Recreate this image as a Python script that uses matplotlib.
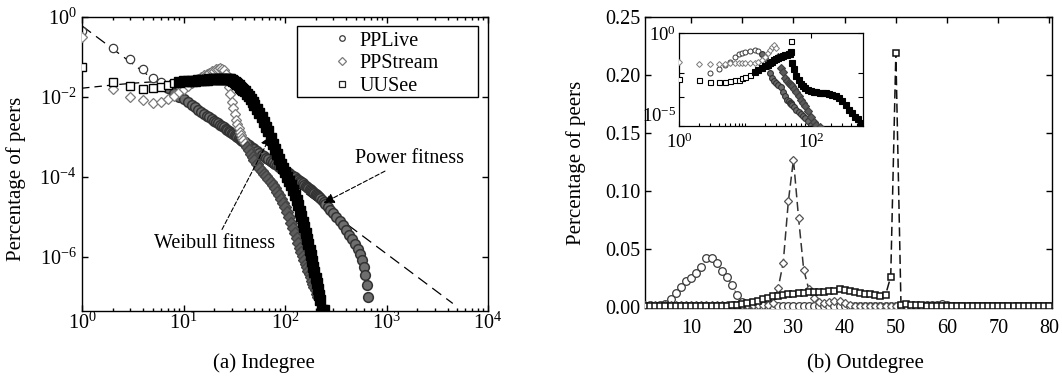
import numpy as np
import matplotlib
matplotlib.use("Agg")
import matplotlib.pyplot as plt
from matplotlib.patches import Rectangle
from matplotlib.lines import Line2D
from matplotlib.ticker import FixedLocator, NullLocator, NullFormatter, FixedFormatter, LogLocator

nan = np.nan

# ---------------- (a) Indegree data (log10 of percentage) ----------------
indeg_x = [1, 2, 3, 4, 5, 6, 7, 8, 9, 10,
           11, 12, 13, 14, 15, 16, 17, 18, 19, 20,
           21, 22, 23, 24, 25, 26, 27, 28, 29, 30,
           31, 32, 33, 34, 35, 36, 37, 38, 39, 40,
           42, 44, 46, 48, 50, 53, 56, 59, 62, 65,
           68, 72, 76, 80, 84, 88, 92, 96, 100, 105,
           110, 115, 120, 125, 130, 135, 140, 145, 150, 155,
           160, 165, 170, 175, 180, 185, 190, 195, 200, 205,
           210, 215, 220, 230, 240, 250, 265, 280, 300, 320,
           345, 370, 400, 430, 460, 490, 520, 550, 580, 600,
           620, 640, 660]

pplive_in_log = [-0.35, -0.77, -1.06, -1.30, -1.52, -1.62, -1.78, -1.90, -1.99, -2.06,
                 -2.13, -2.20, -2.26, -2.32, -2.37, -2.42, -2.47, -2.51, -2.55, -2.59,
                 -2.63, -2.66, -2.70, -2.73, -2.76, -2.79, -2.82, -2.85, -2.88, -2.90,
                 -2.93, -2.95, -2.98, -3.00, -3.02, -3.05, -3.07, -3.09, -3.11, -3.13,
                 -3.17, -3.21, -3.24, -3.28, -3.31, -3.36, -3.40, -3.44, -3.48, -3.52,
                 -3.55, -3.59, -3.63, -3.67, -3.71, -3.74, -3.78, -3.81, -3.84, -3.88,
                 -3.91, -3.95, -3.98, -4.01, -4.04, -4.07, -4.10, -4.13, -4.16, -4.19,
                 -4.22, -4.25, -4.27, -4.30, -4.33, -4.35, -4.38, -4.40, -4.43, -4.46,
                 -4.48, -4.51, -4.53, -4.58, -4.63, -4.68, -4.75, -4.82, -4.91, -5.00,
                 -5.11, -5.21, -5.33, -5.44, -5.56, -5.68, -5.80, -5.93, -6.08, -6.25,
                 -6.45, -6.70, -7.00]

ppstream_in_log = [-0.50, -1.80, -2.00, -2.07, -2.15, -2.12, -2.05, -1.97, -1.88, -1.80,
                   -1.73, -1.66, -1.60, -1.55, -1.50, -1.46, -1.42, -1.39, -1.36, -1.34,
                   -1.31, -1.29, -1.28, -1.29, -1.33, -1.42, -1.56, -1.74, -1.93, -2.12,
                   -2.28, -2.43, -2.57, -2.68, -2.78, -2.87, -2.95, -3.02, -3.08, -3.14,
                   -3.24, -3.33, -3.42, -3.50, -3.58, -3.68, -3.77, -3.85, -3.92, -3.98,
                   -4.04, -4.12, -4.20, -4.28, -4.37, -4.46, -4.55, -4.65, -4.75, -4.88,
                   -5.01, -5.14, -5.27, -5.40, -5.53, -5.65, -5.77, -5.88, -5.98, -6.08,
                   -6.17, -6.26, -6.35, -6.43, -6.51, -6.59, -6.67, -6.75, -6.83, -6.92,
                   -7.00, nan, nan, nan, nan, nan, nan, nan, nan, nan,
                   nan, nan, nan, nan, nan, nan, nan, nan, nan, nan,
                   nan, nan, nan]

uusee_in_log = [-1.25, -1.62, -1.72, -1.80, -1.78, -1.75, -1.70, -1.65, -1.62, -1.60,
                -1.60, -1.59, -1.59, -1.58, -1.58, -1.57, -1.57, -1.56, -1.56, -1.56,
                -1.56, -1.56, -1.56, -1.56, -1.56, -1.56, -1.56, -1.56, -1.56, -1.57,
                -1.59, -1.62, -1.65, -1.68, -1.71, -1.74, -1.77, -1.80, -1.83, -1.86,
                -1.92, -1.98, -2.05, -2.12, -2.19, -2.29, -2.40, -2.51, -2.62, -2.74,
                -2.86, -3.02, -3.17, -3.30, -3.43, -3.55, -3.67, -3.78, -3.88, -4.00,
                -4.10, -4.21, -4.33, -4.45, -4.58, -4.71, -4.84, -4.98, -5.12, -5.26,
                -5.40, -5.54, -5.68, -5.82, -5.96, -6.10, -6.24, -6.38, -6.52, -6.66,
                -6.80, -6.94, -7.08, -7.33, -7.33, nan, nan, nan, nan, nan,
                nan, nan, nan, nan, nan, nan, nan, nan, nan, nan,
                nan, nan, nan]

weibull_fit_x = [1, 2, 3, 5, 8, 12, 20, 30, 40, 50, 60, 70, 80, 100, 120, 150, 180, 210]
weibull_fit_log = [-1.78, -1.70, -1.66, -1.62, -1.59, -1.57, -1.56, -1.58, -1.86, -2.19,
                   -2.55, -2.95, -3.30, -3.88, -4.33, -5.12, -5.96, -6.80]

power_fit_x = [1, 4500]
power_fit_y = [0.60, 6.9e-8]

# ---------------- (b) Outdegree data ----------------
outdeg_x = list(range(1, 81))

pplive_out = [0.0010, 0.0012, 0.0010, 0.0015, 0.0025, 0.0066, 0.0120, 0.0175, 0.0220, 0.0250,
              0.0290, 0.0340, 0.0420, 0.0420, 0.0375, 0.0310, 0.0260, 0.0190, 0.0100, 0.0040,
              0.0020, 0.0012, 0.0010, 0.0010, 0.0010, 0.0010, 0.0008, 0.0008, 0.0008, 0.0008,
              0.0008, 0.0008, 0.0008, 0.0008, 0.0008, 0.0008, 0.0008, 0.0008, 0.0008, 0.0008,
              0.0008, 0.0008, 0.0008, 0.0008, 0.0008, 0.0008, 0.0008, 0.0008, 0.0008, 0.0008,
              0.0008, 0.0010, 0.0010, 0.0010, 0.0010, 0.0012, 0.0015, 0.0020, 0.0022, 0.0015,
              0.0010, 0.0008, 0.0008, 0.0008, 0.0008, 0.0008, 0.0008, 0.0008, 0.0008, 0.0008,
              0.0008, 0.0008, 0.0008, 0.0008, 0.0008, 0.0008, 0.0008, 0.0008, 0.0008, 0.0008]

ppstream_out = [0.0015, 0.0015, 0.0015, 0.0015, 0.0015, 0.0015, 0.0015, 0.0015, 0.0015, 0.0015,
                0.0015, 0.0015, 0.0015, 0.0015, 0.0015, 0.0015, 0.0015, 0.0015, 0.0015, 0.0015,
                0.0015, 0.0015, 0.0015, 0.0015, 0.0020, 0.0030, 0.0160, 0.0380, 0.0910, 0.1270,
                0.0765, 0.0320, 0.0150, 0.0080, 0.0040, 0.0030, 0.0040, 0.0050, 0.0050, 0.0030,
                0.0015, 0.0010, 0.0008, 0.0008, 0.0008, 0.0008, 0.0008, 0.0008, 0.0008, 0.0008,
                0.0008, 0.0008, 0.0008, 0.0008, 0.0008, 0.0008, 0.0008, 0.0008, 0.0008, 0.0008,
                0.0008, 0.0008, 0.0008, 0.0008, 0.0008, 0.0008, 0.0008, 0.0008, 0.0008, 0.0008,
                0.0008, 0.0008, 0.0008, 0.0008, 0.0008, 0.0008, 0.0008, 0.0008, 0.0008, 0.0008]

uusee_out = [0.0005, 0.0005, 0.0005, 0.0005, 0.0005, 0.0005, 0.0005, 0.0005, 0.0005, 0.0005,
             0.0005, 0.0005, 0.0005, 0.0005, 0.0005, 0.0005, 0.0005, 0.0015, 0.0020, 0.0025,
             0.0030, 0.0040, 0.0050, 0.0065, 0.0075, 0.0090, 0.0095, 0.0105, 0.0110, 0.0115,
             0.0120, 0.0123, 0.0125, 0.0130, 0.0130, 0.0130, 0.0135, 0.0140, 0.0152, 0.0145,
             0.0135, 0.0130, 0.0120, 0.0115, 0.0110, 0.0105, 0.0095, 0.0105, 0.0260, 0.2190,
             0.0020, 0.0025, 0.0020, 0.0020, 0.0015, 0.0005, 0.0005, 0.0005, 0.0005, 0.0005,
             0.0005, 0.0005, 0.0005, 0.0005, 0.0005, 0.0005, 0.0005, 0.0005, 0.0005, 0.0005,
             0.0005, 0.0005, 0.0005, 0.0005, 0.0005, 0.0005, 0.0005, 0.0005, 0.0005, 0.0005]

# inset (log-log outdegree), log10 values
inset_x = [1, 2, 3, 4, 5, 6, 7, 8, 9, 10,
           12, 14, 16, 18, 20, 22, 24, 26, 28, 30,
           32, 35, 38, 41, 44, 46, 48, 49, 50, 52,
           56, 60, 65, 70, 75, 80, 90, 100, 110, 120,
           135, 150, 170, 190, 210, 240, 270, 300, 340, 380,
           420, 470, 520, 580]

uusee_inset_log = [-2.45, -2.52, -2.65, -2.66, -2.65, -2.60, -2.55, -2.50, -2.42, -2.36,
                   -2.25, -2.12, -2.00, -1.90, -1.80, -1.70, -1.62, -1.55, -1.46, -1.40,
                   -1.35, -1.28, -1.22, -1.18, -1.16, -1.15, -1.12, -1.00, -0.42, -1.60,
                   -1.95, -2.30, -2.55, -2.72, -2.85, -2.95, -3.05, -3.10, -3.15, -3.18,
                   -3.20, -3.22, -3.25, -3.28, -3.32, -3.40, -3.50, -3.65, -3.85, -4.15,
                   -4.30, -4.50, -4.65, -4.85]

pplive_inset_log = [nan, nan, -2.17, -1.95, -1.72, -1.55, -1.30, -1.15, -1.07, -1.00,
                    -0.95, -0.91, -0.98, -1.15, -1.35, -1.80, -2.17, -2.40, -2.60, -2.70,
                    -2.78, -2.90, -3.15, -3.40, -3.60, -3.68, -3.75, -3.78, -3.82, -3.88,
                    -4.00, -4.14, -4.25, -4.35, -4.45, -4.55, -4.75, -4.95, -5.05, nan,
                    nan, nan, nan, nan, nan, nan, nan, nan, nan, nan,
                    nan, nan, nan, nan]

ppstream_inset_log = [-1.54, -1.69, -1.69, -1.69, -1.65, -1.63, -1.62, -1.60, -1.60, -1.62,
                      -1.62, -1.60, -1.55, -1.45, -1.30, -1.10, -0.90, -0.75, -0.65, -0.80,
                      -1.30, -1.90, -2.10, -2.40, -2.60, -2.70, -2.75, -2.78, -2.80, -2.85,
                      -3.00, -3.15, -3.40, -3.60, -3.75, -3.90, -4.20, -4.50, -4.80, -4.95,
                      -5.05, nan, nan, nan, nan, nan, nan, nan, nan, nan,
                      nan, nan, nan, nan]

series_labels = ["PPLive", "PPStream", "UUSee"]

assert len(indeg_x) == len(pplive_in_log) == len(ppstream_in_log) == len(uusee_in_log)
assert len(inset_x) == len(uusee_inset_log) == len(pplive_inset_log) == len(ppstream_inset_log)
assert len(outdeg_x) == len(pplive_out) == len(ppstream_out) == len(uusee_out)


def p10(v):
    return 10.0 ** np.asarray(v, dtype=float)


plt.rcParams["font.family"] = ["Liberation Serif", "DejaVu Serif"]
plt.rcParams["mathtext.fontset"] = "custom"
plt.rcParams["mathtext.rm"] = "Liberation Serif"
plt.rcParams["mathtext.it"] = "Liberation Serif:italic"
plt.rcParams["mathtext.bf"] = "Liberation Serif:bold"
plt.rcParams["font.size"] = 14.5
plt.rcParams["axes.linewidth"] = 1.0

W, H = 1062, 376
fig = plt.figure(figsize=(W / 100, H / 100), dpi=100)


def px_axes(l, t, r, b):
    return fig.add_axes([l / W, 1 - b / H, (r - l) / W, (b - t) / H])


C_LIVE = "#3a3a3a"
C_STREAM = "#7a7a7a"
C_UU = "#000000"

# ---------------- left panel ----------------
ax1 = px_axes(82, 17, 488, 311)
ax1.set_xscale("log")
ax1.set_yscale("log")

ax1.plot(power_fit_x, power_fit_y, color="black", lw=0.9, dashes=(9, 5), zorder=1)
ax1.plot(weibull_fit_x, p10(weibull_fit_log), color="black", lw=0.9, dashes=(6, 4), zorder=1)

ix = np.asarray(indeg_x, dtype=float)
live_in = p10(pplive_in_log)
stream_in = p10(ppstream_in_log)
uu_in = p10(uusee_in_log)

# sparse (individually visible) markers and dense bands of the same series
m = ix <= 6
ax1.plot(ix[m], live_in[m], ls="none", marker="o", ms=6, mfc="white", mec=C_LIVE, mew=0.9, zorder=2)
ax1.plot(ix[~m], live_in[~m], ls="none", marker="o", ms=7, mfc="#6e6e6e", mec="#333333",
         mew=1.1, zorder=2)
m = ix <= 41
ax1.plot(ix[m], stream_in[m], ls="none", marker="D", ms=5.2, mfc="white", mec=C_STREAM,
         mew=0.9, zorder=3)
ax1.plot(ix[~m], stream_in[~m], ls="none", marker="D", ms=6, mfc="#5c5c5c", mec="#444444",
         mew=1.0, zorder=3)
m = ix <= 8
ax1.plot(ix[m], uu_in[m], ls="none", marker="s", ms=5.8, mfc="white", mec=C_UU, mew=1.0, zorder=4)
ax1.plot(ix[~m], uu_in[~m], ls="none", marker="s", ms=6.5, mfc="black", mec="black",
         mew=1.0, zorder=4)

ax1.set_xlim(1, 1e4)
ax1.set_ylim(10 ** -7.35, 1)
ax1.xaxis.set_major_locator(FixedLocator([1, 10, 100, 1000, 10000]))
ax1.xaxis.set_minor_locator(LogLocator(base=10, subs=np.arange(2, 10)))
ax1.xaxis.set_minor_formatter(NullFormatter())
ax1.yaxis.set_major_locator(FixedLocator([1e-6, 1e-4, 1e-2, 1]))
ax1.yaxis.set_minor_locator(NullLocator())
ax1.tick_params(which="both", direction="in", top=True, right=True, width=1.0)
ax1.tick_params(which="major", length=4.5)
ax1.tick_params(which="minor", length=2.3)
ax1.tick_params(axis="x", pad=1)
ax1.tick_params(axis="y", pad=4)
ax1.set_ylabel("Percentage of peers", fontsize=15)
ax1.yaxis.set_label_coords(-0.138, 0.45)

# legend
handles = [
    Line2D([], [], ls="none", marker="o", ms=4, mfc="white", mec=C_LIVE, mew=0.9),
    Line2D([], [], ls="none", marker="D", ms=3.6, mfc="white", mec=C_STREAM, mew=0.9),
    Line2D([], [], ls="none", marker="s", ms=3.8, mfc="white", mec="#222222", mew=0.9),
]
ax1.legend(handles, series_labels, loc="upper left", bbox_to_anchor=(0.621, 0.951),
           frameon=False, handlelength=0.8, handletextpad=0.45, borderpad=0,
           borderaxespad=0, labelspacing=0.175, fontsize=14.5)
ax1.add_patch(Rectangle((0.53, 0.728), 0.445, 0.241, transform=ax1.transAxes,
                        fill=False, ec="black", lw=1.0, zorder=6))

arrow_kw = dict(arrowstyle="-|>", color="black", lw=0.8, mutation_scale=16,
                shrinkA=1, shrinkB=0, linestyle=(0, (4, 2)))
ax1.annotate("Power fitness", xy=(10 ** 2.38, 10 ** -4.65), xytext=(10 ** 3.23, 10 ** -3.53),
             ha="center", va="center", fontsize=14.5, arrowprops=arrow_kw, zorder=7)
ax1.annotate("Weibull fitness", xy=(10 ** 1.86, 10 ** -2.97), xytext=(10 ** 1.31, 10 ** -5.65),
             ha="center", va="center", fontsize=14.5, arrowprops=arrow_kw, zorder=7)

# ---------------- right panel ----------------
ax2 = px_axes(645, 17, 1052, 308)
ax2.plot(outdeg_x, pplive_out, color="#555555", lw=0.8, ls=(0, (3, 2)), marker="o", ms=5.5,
         mfc="white", mec=C_LIVE, mew=0.9, zorder=3)
ax2.plot(outdeg_x, ppstream_out, color="#333333", lw=1.1, ls=(0, (6, 3)), marker="D", ms=4.2,
         mfc="white", mec="#555555", mew=0.9, zorder=4)
ax2.plot(outdeg_x, uusee_out, color="#111111", lw=1.1, ls=(0, (6, 3)), marker="s", ms=5,
         mfc="white", mec="#111111", mew=1.1, zorder=5)
ax2.set_xlim(1, 80.5)
ax2.set_ylim(-0.001, 0.25)
ax2.set_xticks([10, 20, 30, 40, 50, 60, 70, 80])
ax2.set_yticks([0.0, 0.05, 0.10, 0.15, 0.20, 0.25])
ax2.set_yticklabels(["0.00", "0.05", "0.10", "0.15", "0.20", "0.25"])
ax2.tick_params(direction="in", top=True, right=True, length=4.5, width=1.0)
ax2.tick_params(axis="x", pad=8)
ax2.tick_params(axis="y", pad=3.5)
ax2.set_ylabel("Percentage of peers", fontsize=15)
ax2.yaxis.set_label_coords(-0.145, 0.5)

# ---------------- inset ----------------
ax3 = px_axes(679, 33, 863, 126)
ax3.set_xscale("log")
ax3.set_yscale("log")
jx = np.asarray(inset_x, dtype=float)
live_i = p10(pplive_inset_log)
stream_i = p10(ppstream_inset_log)
uu_i = p10(uusee_inset_log)
m = jx <= 16
ax3.plot(jx[m], live_i[m], ls="none", marker="o", ms=3.6, mfc="white", mec=C_LIVE, mew=0.7, zorder=2)
ax3.plot(jx[~m], live_i[~m], ls="none", marker="o", ms=4.2, mfc="#6a6a6a", mec="#333333",
         mew=0.8, zorder=2)
m = jx <= 30
ax3.plot(jx[m], stream_i[m], ls="none", marker="D", ms=3.0, mfc="white", mec=C_STREAM, mew=0.7, zorder=3)
ax3.plot(jx[~m], stream_i[~m], ls="none", marker="D", ms=3.6, mfc="#5a5a5a", mec="#404040",
         mew=0.8, zorder=3)
m = (jx <= 12) | (jx == 50)
ax3.plot(jx[m], uu_i[m], ls="none", marker="s", ms=3.6, mfc="white", mec="black", mew=0.8, zorder=4)
ax3.plot(jx[~m], uu_i[~m], ls="none", marker="s", ms=4.6, mfc="black", mec="black", mew=0.8, zorder=4)
ax3.set_xlim(1, 615)
ax3.set_ylim(1e-5, 1)
ax3.xaxis.set_major_locator(FixedLocator([1, 100]))
ax3.xaxis.set_major_formatter(FixedFormatter([r"$10^{0}$", r"$10^{2}$"]))
ax3.xaxis.set_minor_locator(FixedLocator([2, 3, 4, 5, 6, 7, 8, 9, 10, 20, 30, 40, 50, 60,
                                          70, 80, 90, 200, 300, 400, 500, 600]))
ax3.xaxis.set_minor_formatter(NullFormatter())
ax3.yaxis.set_major_locator(FixedLocator([1e-5, 10 ** -3.43, 10 ** -2.15, 1]))
ax3.yaxis.set_major_formatter(FixedFormatter([r"$10^{-5}$", "", "", r"$10^{0}$"]))
ax3.yaxis.set_minor_locator(NullLocator())
ax3.tick_params(which="both", direction="in", top=True, right=True, width=0.8, labelsize=13.5)
ax3.tick_params(which="minor", top=False, length=2)
ax3.tick_params(which="major", length=3.5)
ax3.tick_params(axis="x", pad=4.5)
ax3.tick_params(axis="y", pad=2)
for s in ax3.spines.values():
    s.set_linewidth(0.9)
ax3.yaxis.get_major_ticks()[0].label1.set_verticalalignment("bottom")

# captions
fig.text(264 / W, 1 - 363 / H, "(a) Indegree", ha="center", va="center", fontsize=15)
fig.text(865 / W, 1 - 363 / H, "(b) Outdegree", ha="center", va="center", fontsize=15)

fig.savefig("out.png", dpi=100)
